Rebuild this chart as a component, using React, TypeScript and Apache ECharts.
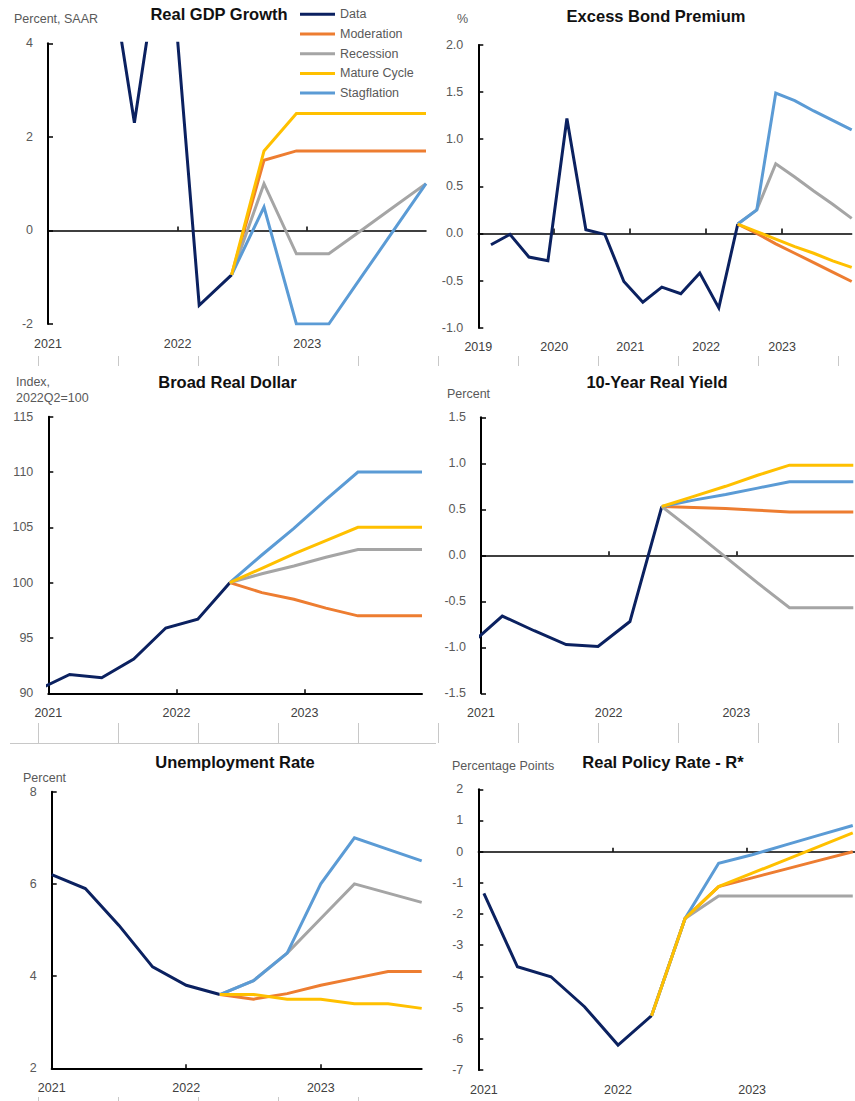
import { useEffect, useRef } from "react";
import * as echarts from "echarts";

const FONT = '"Liberation Sans", Arial, Helvetica, sans-serif';

// ---------- series names / colours ----------
const legendNames = ["Data", "Moderation", "Recession", "Mature Cycle", "Stagflation"];
const drawOrder = ["Data", "Moderation", "Recession", "Stagflation", "Mature Cycle"];
const seriesColors: Record<string, string> = {
  Data: "#0B2160",
  Moderation: "#ED7D31",
  Recession: "#A5A5A5",
  "Mature Cycle": "#FFC000",
  Stagflation: "#5B9BD5",
};

// ---------- shared scenario quarters ----------
const scenarioQuarters = ["2022Q2", "2022Q3", "2022Q4", "2023Q1", "2023Q2", "2023Q3", "2023Q4"];

// ---------- Real GDP Growth ----------
const gdpQuarters = ["2021Q1", "2021Q2", "2021Q3", "2021Q4", "2022Q1", "2022Q2"];
const gdpData = [6.3, 6.7, 2.3, 6.9, -1.6, -0.95];
const gdpModeration = [-0.95, 1.5, 1.7, 1.7, 1.7, 1.7, 1.7];
const gdpRecession = [-0.95, 1.0, -0.5, -0.5, 0.0, 0.5, 1.0];
const gdpMature = [-0.95, 1.7, 2.5, 2.5, 2.5, 2.5, 2.5];
const gdpStagflation = [-0.95, 0.5, -2.0, -2.0, -1.0, 0.0, 1.0];

// ---------- Excess Bond Premium ----------
const ebpQuarters = [
  "2019Q1", "2019Q2", "2019Q3", "2019Q4", "2020Q1", "2020Q2", "2020Q3",
  "2020Q4", "2021Q1", "2021Q2", "2021Q3", "2021Q4", "2022Q1", "2022Q2",
];
const ebpData = [-0.12, -0.01, -0.25, -0.29, 1.22, 0.04, -0.01, -0.51, -0.73, -0.57, -0.64, -0.42, -0.79, 0.1];
const ebpModeration = [0.1, 0.0, -0.11, -0.21, -0.31, -0.41, -0.51];
const ebpRecession = [0.1, 0.25, 0.74, 0.6, 0.45, 0.31, 0.16];
const ebpMature = [0.1, 0.02, -0.06, -0.14, -0.21, -0.29, -0.36];
const ebpStagflation = [0.1, 0.25, 1.49, 1.41, 1.3, 1.2, 1.1];

// ---------- Broad Real Dollar ----------
const usdQuarters = ["2020Q4", "2021Q1", "2021Q2", "2021Q3", "2021Q4", "2022Q1", "2022Q2"];
const usdData = [90.3, 91.7, 91.4, 93.1, 95.9, 96.7, 100];
const usdModeration = [100, 99.1, 98.5, 97.7, 97, 97, 97];
const usdRecession = [100, 100.8, 101.5, 102.3, 103, 103, 103];
const usdMature = [100, 101.3, 102.6, 103.8, 105, 105, 105];
const usdStagflation = [100, 102.5, 104.9, 107.5, 110, 110, 110];

// ---------- 10-Year Real Yield ----------
const yieldQuarters = ["2020Q4", "2021Q1", "2021Q2", "2021Q3", "2021Q4", "2022Q1", "2022Q2"];
const yieldData = [-0.97, -0.66, -0.82, -0.97, -0.99, -0.72, 0.53];
const yieldModeration = [0.53, 0.52, 0.51, 0.49, 0.47, 0.47, 0.47];
const yieldRecession = [0.53, 0.26, -0.02, -0.3, -0.57, -0.57, -0.57];
const yieldMature = [0.53, 0.64, 0.75, 0.87, 0.98, 0.98, 0.98];
const yieldStagflation = [0.53, 0.6, 0.66, 0.73, 0.8, 0.8, 0.8];

// ---------- Unemployment Rate ----------
const urQuarters = ["2021Q1", "2021Q2", "2021Q3", "2021Q4", "2022Q1", "2022Q2"];
const urData = [6.2, 5.9, 5.1, 4.2, 3.8, 3.6];
const urModeration = [3.6, 3.5, 3.62, 3.8, 3.95, 4.1, 4.1];
const urRecession = [3.6, 3.9, 4.5, 5.25, 6.0, 5.8, 5.6];
const urMature = [3.6, 3.6, 3.5, 3.5, 3.4, 3.4, 3.3];
const urStagflation = [3.6, 3.9, 4.5, 6.0, 7.0, 6.75, 6.5];

// ---------- Real Policy Rate - R* ----------
const rprQuarters = ["2021Q1", "2021Q2", "2021Q3", "2021Q4", "2022Q1", "2022Q2"];
const rprData = [-1.34, -3.69, -4.01, -4.97, -6.2, -5.26];
const rprModeration = [-5.26, -2.14, -1.12, -0.84, -0.56, -0.28, 0.0];
const rprRecession = [-5.26, -2.14, -1.42, -1.42, -1.42, -1.42, -1.42];
const rprMature = [-5.26, -2.14, -1.12, -0.69, -0.26, 0.17, 0.6];
const rprStagflation = [-5.26, -2.14, -0.37, -0.1, 0.22, 0.53, 0.84];

function monthIndex(q: string, baseYear: number, monthInQuarter: number) {
  const year = Number(q.slice(0, 4));
  const quarter = Number(q.slice(5));
  return (year - baseYear) * 12 + (quarter - 1) * 3 + monthInQuarter;
}

type Panel = {
  title: string;
  titleX: number;
  titleY: number;
  names: { text: string; x: number; y: number }[];
  grid: { left: number; top: number; width: number; height: number };
  baseYear: number;
  monthInQuarter: number;
  xMin: number;
  xMax: number;
  labelMonths: number[];
  tickMonths: number[];
  tickLen: number;
  yMin: number;
  yMax: number;
  yInterval: number;
  yDecimals: number;
  zeroLine: boolean;
  histQ: string[];
  hist: number[];
  scen: Record<string, number[]>;
};

const panels: Panel[] = [
  {
    title: "Real GDP Growth", titleX: 219, titleY: 14,
    names: [{ text: "Percent, SAAR", x: 14, y: 19 }],
    grid: { left: 48, top: 43.3, width: 378, height: 280.7 },
    baseYear: 2021, monthInQuarter: 2, xMin: 0, xMax: 35,
    labelMonths: [0, 12, 24], tickMonths: [12, 24], tickLen: 4,
    yMin: -2, yMax: 4, yInterval: 2, yDecimals: 0, zeroLine: true,
    histQ: gdpQuarters, hist: gdpData,
    scen: { Moderation: gdpModeration, Recession: gdpRecession, "Mature Cycle": gdpMature, Stagflation: gdpStagflation },
  },
  {
    title: "Excess Bond Premium", titleX: 656, titleY: 16,
    names: [{ text: "%", x: 457, y: 19 }],
    grid: { left: 478.3, top: 45, width: 373.4, height: 282.7 },
    baseYear: 2019, monthInQuarter: 2, xMin: 0, xMax: 59,
    labelMonths: [0, 12, 24, 36, 48], tickMonths: [12, 24, 36, 48], tickLen: 5,
    yMin: -1, yMax: 2, yInterval: 0.5, yDecimals: 1, zeroLine: true,
    histQ: ebpQuarters, hist: ebpData,
    scen: { Moderation: ebpModeration, Recession: ebpRecession, "Mature Cycle": ebpMature, Stagflation: ebpStagflation },
  },
  {
    title: "Broad Real Dollar", titleX: 227.5, titleY: 382,
    names: [{ text: "Index,", x: 16, y: 382 }, { text: "2022Q2=100", x: 16, y: 398 }],
    grid: { left: 48.3, top: 416.7, width: 373.7, height: 276.6 },
    baseYear: 2021, monthInQuarter: 2, xMin: 0, xMax: 35,
    labelMonths: [0, 12, 24], tickMonths: [12, 24], tickLen: 4,
    yMin: 90, yMax: 115, yInterval: 5, yDecimals: 0, zeroLine: false,
    histQ: usdQuarters, hist: usdData,
    scen: { Moderation: usdModeration, Recession: usdRecession, "Mature Cycle": usdMature, Stagflation: usdStagflation },
  },
  {
    title: "10-Year Real Yield", titleX: 657, titleY: 382,
    names: [{ text: "Percent", x: 447, y: 394 }],
    grid: { left: 481, top: 417.3, width: 372.3, height: 276 },
    baseYear: 2021, monthInQuarter: 2, xMin: 0, xMax: 35,
    labelMonths: [0, 12, 24], tickMonths: [12, 24], tickLen: 4,
    yMin: -1.5, yMax: 1.5, yInterval: 0.5, yDecimals: 1, zeroLine: true,
    histQ: yieldQuarters, hist: yieldData,
    scen: { Moderation: yieldModeration, Recession: yieldRecession, "Mature Cycle": yieldMature, Stagflation: yieldStagflation },
  },
  {
    title: "Unemployment Rate", titleX: 235, titleY: 762,
    names: [{ text: "Percent", x: 23, y: 778 }],
    grid: { left: 51.7, top: 791.7, width: 370, height: 276.6 },
    baseYear: 2021, monthInQuarter: 0, xMin: 0, xMax: 33,
    labelMonths: [0, 12, 24], tickMonths: [12, 24], tickLen: 4,
    yMin: 2, yMax: 8, yInterval: 2, yDecimals: 0, zeroLine: false,
    histQ: urQuarters, hist: urData,
    scen: { Moderation: urModeration, Recession: urRecession, "Mature Cycle": urMature, Stagflation: urStagflation },
  },
  {
    title: "Real Policy Rate - R*", titleX: 663, titleY: 762,
    names: [{ text: "Percentage Points", x: 452, y: 766 }],
    grid: { left: 478.3, top: 789.3, width: 376.7, height: 280.7 },
    baseYear: 2021, monthInQuarter: 0, xMin: -0.5, xMax: 33.2,
    labelMonths: [0, 12, 24], tickMonths: [11.5, 23.5], tickLen: 4,
    yMin: -7, yMax: 2, yInterval: 1, yDecimals: 0, zeroLine: true,
    histQ: rprQuarters, hist: rprData,
    scen: { Moderation: rprModeration, Recession: rprRecession, "Mature Cycle": rprMature, Stagflation: rprStagflation },
  },
];

function buildOption() {
  const xAxis: any[] = [];
  const yAxis: any[] = [];
  const series: any[] = [];
  const grid: any[] = [];
  const elements: any[] = [];

  panels.forEach((p, i) => {
    grid.push({ ...p.grid, containLabel: false, outerBoundsMode: "none" });
    const labelAxisIndex = xAxis.length;
    const by = p.baseYear;
    xAxis.push({
      type: "value",
      gridIndex: i,
      min: p.xMin,
      max: p.xMax,
      position: "bottom",
      axisLine: { show: !p.zeroLine, onZero: false, lineStyle: { color: "#000", width: 2 } },
      axisTick: {
        show: !p.zeroLine, inside: true, length: p.tickLen, customValues: p.tickMonths,
        lineStyle: { color: "#000", width: 1.5 },
      },
      axisLabel: {
        customValues: p.labelMonths,
        formatter: (v: number) => String(by + Math.round(v / 12)),
        margin: 13,
        color: "#404040",
        fontSize: 12.5,
        fontFamily: FONT,
      },
      splitLine: { show: false },
    });
    if (p.zeroLine) {
      xAxis.push({
        type: "value",
        gridIndex: i,
        min: p.xMin,
        max: p.xMax,
        position: "bottom",
        axisLine: { show: true, onZero: true, lineStyle: { color: "#000", width: 1.5 } },
        axisTick: {
          show: true, inside: true, length: p.tickLen, customValues: p.tickMonths,
          lineStyle: { color: "#000", width: 1.5 },
        },
        axisLabel: { show: false },
        splitLine: { show: false },
      });
    }
    const dec = p.yDecimals;
    yAxis.push({
      type: "value",
      gridIndex: i,
      min: p.yMin,
      max: p.yMax,
      interval: p.yInterval,
      axisLine: { show: true, onZero: false, lineStyle: { color: "#000", width: 2 } },
      axisTick: { show: true, inside: true, length: 5, lineStyle: { color: "#000", width: 1.5 } },
      axisLabel: {
        margin: 15,
        color: "#595959",
        fontSize: 12.5,
        fontFamily: FONT,
        formatter: (v: number) => v.toFixed(dec),
      },
      splitLine: { show: false },
    });

    drawOrder.forEach((name, k) => {
      const qs = name === "Data" ? p.histQ : scenarioQuarters;
      const vals = name === "Data" ? p.hist : p.scen[name];
      series.push({
        type: "line",
        name,
        xAxisIndex: labelAxisIndex,
        yAxisIndex: i,
        data: qs.map((q, j) => [monthIndex(q, p.baseYear, p.monthInQuarter), vals[j]]),
        symbol: "none",
        showSymbol: false,
        clip: true,
        silent: true,
        z: 2 + k,
        lineStyle: { width: 3, color: seriesColors[name], cap: "butt", join: "miter" },
        itemStyle: { color: seriesColors[name] },
        emphasis: { disabled: true },
      });
    });

    elements.push({
      type: "text",
      x: p.titleX,
      y: p.titleY,
      silent: true,
      style: {
        text: p.title,
        fill: "#111",
        fontSize: 16.5,
        fontWeight: "bold",
        fontFamily: FONT,
        align: "center",
        verticalAlign: "middle",
      },
    });
    p.names.forEach((n) => {
      elements.push({
        type: "text",
        x: n.x,
        y: n.y,
        silent: true,
        style: {
          text: n.text,
          fill: "#595959",
          fontSize: 12.5,
          fontFamily: FONT,
          align: "left",
          verticalAlign: "middle",
        },
      });
    });
  });

  // spreadsheet cell borders visible in the screenshot
  const gridStroke = { stroke: "#c8c8c8", lineWidth: 1 };
  for (let k = 0; k <= 10; k++) {
    const x = Math.round(38.3 + k * 80) + 0.5;
    elements.push({ type: "line", silent: true, shape: { x1: x, y1: 356, x2: x, y2: 366 }, style: gridStroke });
    elements.push({ type: "line", silent: true, shape: { x1: x, y1: 723, x2: x, y2: 743 }, style: gridStroke });
    if (k <= 4) {
      elements.push({ type: "line", silent: true, shape: { x1: x, y1: 1097, x2: x, y2: 1101 }, style: gridStroke });
    }
  }
  elements.push({ type: "line", silent: true, shape: { x1: 10, y1: 743.5, x2: 436, y2: 743.5 }, style: gridStroke });

  return {
    animation: false,
    backgroundColor: "#ffffff",
    textStyle: { fontFamily: FONT },
    grid,
    xAxis,
    yAxis,
    series,
    legend: {
      data: legendNames,
      orient: "vertical",
      left: 300,
      top: 7.8,
      padding: 0,
      itemWidth: 35,
      itemHeight: 3,
      itemGap: 6.7,
      icon: "rect",
      selectedMode: false,
      textStyle: { fontSize: 12.5, color: "#595959", fontFamily: FONT },
    },
    graphic: { elements },
  };
}

export default function App() {
  const ref = useRef<HTMLDivElement>(null);
  useEffect(() => {
    document.body.style.margin = "0";
    if (!ref.current) return;
    const chart = echarts.init(ref.current, null, { renderer: "svg" });
    chart.setOption(buildOption() as any);
    return () => chart.dispose();
  }, []);
  return (
    <div
      ref={ref}
      style={{ position: "absolute", left: 0, top: 0, width: 855, height: 1101, background: "#fff" }}
    />
  );
}
